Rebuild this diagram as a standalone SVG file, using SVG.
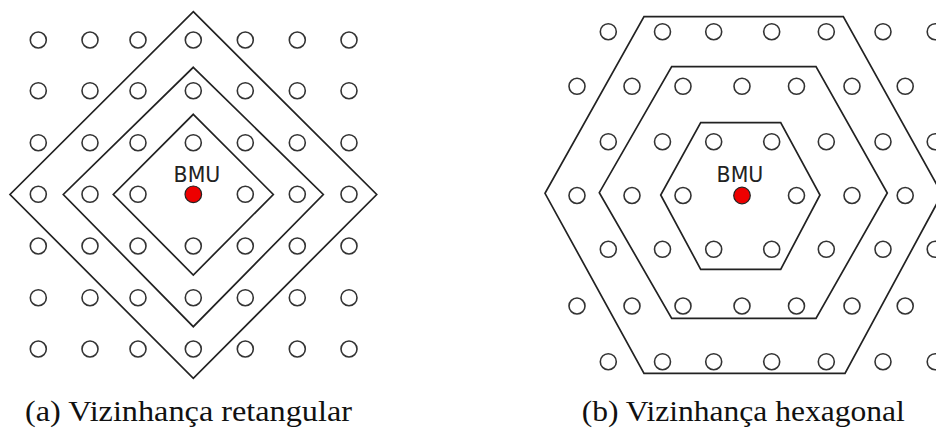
<svg xmlns="http://www.w3.org/2000/svg" width="936" height="429" viewBox="0 0 936 429">
  <style>
    .n { fill: #ffffff; stroke: #333333; stroke-width: 1.6; }
    .bmu { fill: #ee0000; stroke: #222222; stroke-width: 1.2; }
    .ring { fill: none; stroke: #222222; stroke-width: 1.7; stroke-linejoin: miter; }
    .lbl { font-family: "DejaVu Sans", sans-serif; font-size: 20.5px; fill: #222222; }
    .cap { font-family: "Liberation Serif", serif; font-size: 29px; fill: #111111; }
  </style>

  <rect width="936" height="429" fill="#ffffff"/>

  <!-- neighbourhood boundaries -->
  <g id="connectors">
    <!-- rectangular grid: diamonds around the BMU -->
    <polygon class="ring" points="193.3,11.7 376.7,194.5 193.3,378.3 10,194.5"/>
    <polygon class="ring" points="193.3,67.3 323.3,194.5 193.3,326.7 63.3,194.5"/>
    <polygon class="ring" points="193.3,114.3 273.3,194.5 193.3,275 113.3,194.5"/>
    <!-- hexagonal grid: hexagons around the BMU -->
    <polygon class="ring" points="644,16.7 843.3,16.7 942,194 845,373.3 644,373.3 545,193.3"/>
    <polygon class="ring" points="671.7,66.7 816,66.7 887.3,193 816,318.3 671.7,318.3 599.3,192.7"/>
    <polygon class="ring" points="700.7,122.7 780.7,122.7 820,195 780.7,269.3 700.7,269.3 660.7,195"/>
  </g>

  <!-- rectangular lattice -->
  <g id="rect-grid">
    <g id="r0">
      <circle class="n" cx="38.3" cy="40" r="8"/><circle class="n" cx="90" cy="40" r="8"/><circle class="n" cx="138" cy="40" r="8"/><circle class="n" cx="193.3" cy="40" r="8"/><circle class="n" cx="245.3" cy="40" r="8"/><circle class="n" cx="297.3" cy="40" r="8"/><circle class="n" cx="349" cy="40" r="8"/>
    </g>
    <g id="r1">
      <circle class="n" cx="38.3" cy="90.7" r="8"/><circle class="n" cx="90" cy="90.7" r="8"/><circle class="n" cx="138" cy="90.7" r="8"/><circle class="n" cx="193.3" cy="90.7" r="8"/><circle class="n" cx="245.3" cy="90.7" r="8"/><circle class="n" cx="297.3" cy="90.7" r="8"/><circle class="n" cx="349" cy="90.7" r="8"/>
    </g>
    <g id="r2">
      <circle class="n" cx="38.3" cy="142.7" r="8"/><circle class="n" cx="90" cy="142.7" r="8"/><circle class="n" cx="138" cy="142.7" r="8"/><circle class="n" cx="193.3" cy="142.7" r="8"/><circle class="n" cx="245.3" cy="142.7" r="8"/><circle class="n" cx="297.3" cy="142.7" r="8"/><circle class="n" cx="349" cy="142.7" r="8"/>
    </g>
    <g id="r3">
      <circle class="n" cx="38.3" cy="194.3" r="8"/><circle class="n" cx="90" cy="194.3" r="8"/><circle class="n" cx="138" cy="194.3" r="8"/><circle class="n" cx="245.3" cy="194.3" r="8"/><circle class="n" cx="297.3" cy="194.3" r="8"/><circle class="n" cx="349" cy="194.3" r="8"/>
    </g>
    <g id="r4">
      <circle class="n" cx="38.3" cy="246" r="8"/><circle class="n" cx="90" cy="246" r="8"/><circle class="n" cx="138" cy="246" r="8"/><circle class="n" cx="193.3" cy="246" r="8"/><circle class="n" cx="245.3" cy="246" r="8"/><circle class="n" cx="297.3" cy="246" r="8"/><circle class="n" cx="349" cy="246" r="8"/>
    </g>
    <g id="r5">
      <circle class="n" cx="38.3" cy="297.7" r="8"/><circle class="n" cx="90" cy="297.7" r="8"/><circle class="n" cx="138" cy="297.7" r="8"/><circle class="n" cx="193.3" cy="297.7" r="8"/><circle class="n" cx="245.3" cy="297.7" r="8"/><circle class="n" cx="297.3" cy="297.7" r="8"/><circle class="n" cx="349" cy="297.7" r="8"/>
    </g>
    <g id="r6">
      <circle class="n" cx="38.3" cy="349" r="8"/><circle class="n" cx="90" cy="349" r="8"/><circle class="n" cx="138" cy="349" r="8"/><circle class="n" cx="193.3" cy="349" r="8"/><circle class="n" cx="245.3" cy="349" r="8"/><circle class="n" cx="297.3" cy="349" r="8"/><circle class="n" cx="349" cy="349" r="8"/>
    </g>
    <g id="rect-bmu">
      <circle class="bmu" cx="193.3" cy="194.3" r="8.3"/>
      <text class="lbl" x="197" y="181.7" text-anchor="middle">BMU</text>
    </g>
  </g>

  <!-- hexagonal lattice -->
  <g id="hex-grid">
    <g id="h0">
      <circle class="n" cx="608.3" cy="31.7" r="8"/><circle class="n" cx="662.5" cy="31.7" r="8"/><circle class="n" cx="713.7" cy="31.7" r="8"/><circle class="n" cx="771.7" cy="31.7" r="8"/><circle class="n" cx="826.3" cy="31.7" r="8"/><circle class="n" cx="883" cy="31.7" r="8"/><circle class="n" cx="935.2" cy="31.7" r="8"/>
    </g>
    <g id="h1">
      <circle class="n" cx="577" cy="86.3" r="8"/><circle class="n" cx="632" cy="86.3" r="8"/><circle class="n" cx="683" cy="86.3" r="8"/><circle class="n" cx="742" cy="86.3" r="8"/><circle class="n" cx="796.5" cy="86.3" r="8"/><circle class="n" cx="852" cy="86.3" r="8"/><circle class="n" cx="905.2" cy="86.3" r="8"/>
    </g>
    <g id="h2">
      <circle class="n" cx="608.3" cy="141.7" r="8"/><circle class="n" cx="662.5" cy="141.7" r="8"/><circle class="n" cx="713.7" cy="141.7" r="8"/><circle class="n" cx="771.7" cy="141.7" r="8"/><circle class="n" cx="826.3" cy="141.7" r="8"/><circle class="n" cx="883" cy="141.7" r="8"/><circle class="n" cx="935.2" cy="141.7" r="8"/>
    </g>
    <g id="h3">
      <circle class="n" cx="577" cy="195.5" r="8"/><circle class="n" cx="632" cy="195.5" r="8"/><circle class="n" cx="683" cy="195.5" r="8"/><circle class="n" cx="796.5" cy="195.5" r="8"/><circle class="n" cx="852" cy="195.5" r="8"/><circle class="n" cx="905.2" cy="195.5" r="8"/>
    </g>
    <g id="h4">
      <circle class="n" cx="608.3" cy="249.3" r="8"/><circle class="n" cx="662.5" cy="249.3" r="8"/><circle class="n" cx="713.7" cy="249.3" r="8"/><circle class="n" cx="771.7" cy="249.3" r="8"/><circle class="n" cx="826.3" cy="249.3" r="8"/><circle class="n" cx="883" cy="249.3" r="8"/><circle class="n" cx="935.2" cy="249.3" r="8"/>
    </g>
    <g id="h5">
      <circle class="n" cx="577" cy="306" r="8"/><circle class="n" cx="632" cy="306" r="8"/><circle class="n" cx="683" cy="306" r="8"/><circle class="n" cx="742" cy="306" r="8"/><circle class="n" cx="796.5" cy="306" r="8"/><circle class="n" cx="852" cy="306" r="8"/><circle class="n" cx="905.2" cy="306" r="8"/>
    </g>
    <g id="h6">
      <circle class="n" cx="608.3" cy="361.7" r="8"/><circle class="n" cx="662.5" cy="361.7" r="8"/><circle class="n" cx="713.7" cy="361.7" r="8"/><circle class="n" cx="771.7" cy="361.7" r="8"/><circle class="n" cx="826.3" cy="361.7" r="8"/><circle class="n" cx="883" cy="361.7" r="8"/><circle class="n" cx="935.2" cy="361.7" r="8"/>
    </g>
    <g id="hex-bmu">
      <circle class="bmu" cx="742" cy="195.5" r="8.3"/>
      <text class="lbl" x="740" y="181.7" text-anchor="middle">BMU</text>
    </g>
  </g>

  <!-- sub-figure captions -->
  <g id="captions">
    <text class="cap" x="25" y="421" textLength="327" lengthAdjust="spacingAndGlyphs">(a) Vizinhança retangular</text>
    <text class="cap" x="581.7" y="421" textLength="323" lengthAdjust="spacingAndGlyphs">(b) Vizinhança hexagonal</text>
  </g>
</svg>
